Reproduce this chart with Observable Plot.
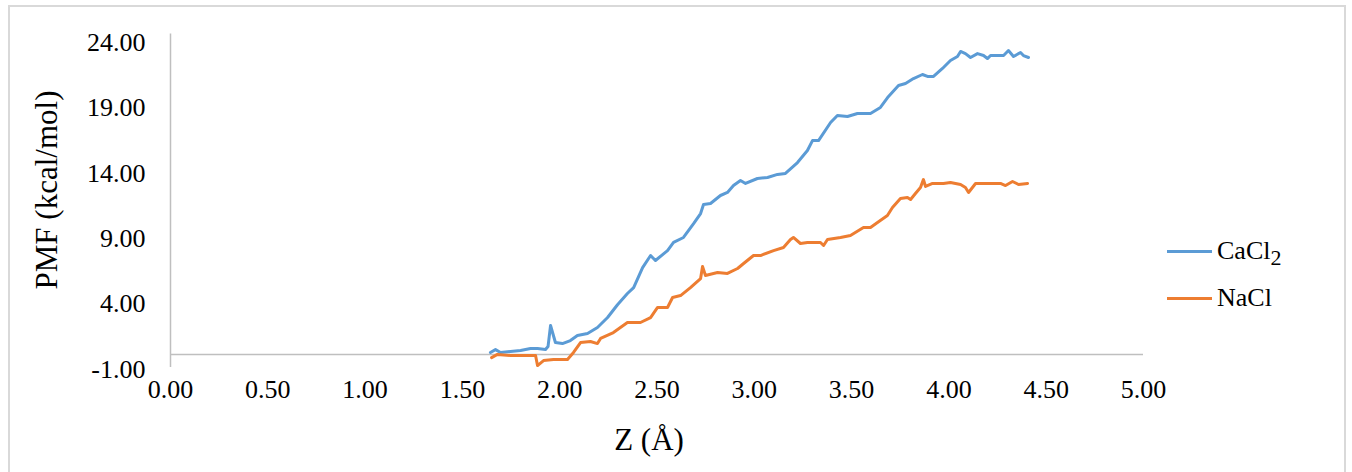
<!DOCTYPE html>
<html>
<head>
<meta charset="utf-8">
<script src="https://cdn.jsdelivr.net/npm/d3@7"></script>
<script src="https://cdn.jsdelivr.net/npm/@observablehq/plot@0.6"></script>
<style>
  html, body { margin: 0; padding: 0; background: #fff; overflow: hidden; }
  #wrap { position: relative; width: 1352px; height: 472px; font-family: "Liberation Serif", "Times New Roman", serif; color: #000; }
  #frame { position: absolute; left: 8px; top: 5px; width: 1338px; height: 490px; border: 2px solid #D9D9D9; box-sizing: border-box; }
  #chart { position: absolute; left: 0; top: 0; }
  .ytitle { position: absolute; left: 47px; top: 190px; transform: translate(-50%, -50%) rotate(-90deg); font-size: 31px; white-space: nowrap; }
  .xtitle { position: absolute; left: 649px; top: 440px; transform: translate(-50%, -50%); font-size: 31px; white-space: nowrap; }
  .legend { position: absolute; left: 1167px; font-size: 26px; display: flex; align-items: center; white-space: nowrap; }
  .legend .sw { width: 45px; height: 3px; margin-right: 5px; }
  .legend sub { font-size: 22px; vertical-align: -6px; line-height: 0; }
</style>
</head>
<body>
<div id="wrap">
  <div id="frame"></div>
  <div id="chart"></div>
  <div class="ytitle">PMF (kcal/mol)</div>
  <div class="xtitle">Z (Å)</div>
  <div class="legend" id="leg0" style="top:236px"></div>
  <div class="legend" id="leg1" style="top:283px"></div>
</div>
<script>
// ---- data ----
const seriesNames = ["CaCl2", "NaCl"];
const seriesColors = ["#5B9BD5", "#ED7D31"];

const zCaCl2 = [1.644, 1.670, 1.696, 1.747, 1.799, 1.850, 1.886, 1.927, 1.940, 1.953, 1.978, 2.014, 2.055, 2.091, 2.143, 2.194, 2.246, 2.297, 2.348, 2.380, 2.426, 2.467, 2.492, 2.554, 2.585, 2.636, 2.688, 2.724, 2.739, 2.775, 2.826, 2.862, 2.893, 2.929, 2.955, 3.016, 3.068, 3.119, 3.160, 3.222, 3.273, 3.299, 3.330, 3.392, 3.427, 3.479, 3.530, 3.597, 3.648, 3.685, 3.741, 3.777, 3.818, 3.864, 3.890, 3.921, 3.967, 4.008, 4.044, 4.060, 4.085, 4.111, 4.147, 4.178, 4.198, 4.214, 4.281, 4.306, 4.332, 4.368, 4.383, 4.409];
const pmfCaCl2 = [0.15, 0.37, 0.15, 0.22, 0.30, 0.45, 0.45, 0.37, 0.60, 2.21, 0.91, 0.83, 1.06, 1.44, 1.60, 2.06, 2.82, 3.80, 4.66, 5.11, 6.64, 7.56, 7.18, 7.94, 8.56, 8.94, 10.00, 10.77, 11.46, 11.54, 12.15, 12.38, 12.91, 13.30, 13.07, 13.45, 13.53, 13.76, 13.84, 14.67, 15.59, 16.35, 16.35, 17.73, 18.27, 18.19, 18.42, 18.42, 18.88, 19.64, 20.56, 20.71, 21.09, 21.40, 21.25, 21.25, 21.86, 22.47, 22.78, 23.16, 23.00, 22.70, 23.00, 22.85, 22.62, 22.85, 22.85, 23.23, 22.78, 23.08, 22.85, 22.70];

const zNaCl = [1.650, 1.680, 1.747, 1.876, 1.886, 1.917, 1.968, 2.020, 2.040, 2.071, 2.107, 2.158, 2.194, 2.210, 2.276, 2.348, 2.415, 2.467, 2.503, 2.554, 2.580, 2.621, 2.672, 2.724, 2.734, 2.749, 2.811, 2.862, 2.914, 2.945, 2.996, 3.032, 3.099, 3.150, 3.186, 3.201, 3.237, 3.273, 3.340, 3.356, 3.376, 3.443, 3.494, 3.561, 3.597, 3.633, 3.684, 3.710, 3.751, 3.787, 3.803, 3.828, 3.854, 3.869, 3.880, 3.916, 3.972, 4.008, 4.060, 4.085, 4.101, 4.137, 4.265, 4.291, 4.327, 4.358, 4.404];
const pmfNaCl = [-0.24, 0.00, -0.08, -0.08, -0.85, -0.47, -0.39, -0.39, -0.39, 0.15, 0.91, 0.99, 0.83, 1.22, 1.67, 2.44, 2.44, 2.82, 3.59, 3.59, 4.35, 4.50, 5.11, 5.80, 6.72, 6.03, 6.26, 6.19, 6.57, 6.95, 7.56, 7.56, 7.94, 8.17, 8.79, 8.94, 8.48, 8.56, 8.56, 8.33, 8.79, 8.94, 9.09, 9.70, 9.70, 10.08, 10.62, 11.23, 11.92, 12.00, 11.84, 12.30, 12.76, 13.37, 12.84, 13.07, 13.07, 13.14, 12.99, 12.76, 12.38, 13.07, 13.07, 12.91, 13.22, 12.99, 13.07];

const xTicks = [0, 0.5, 1, 1.5, 2, 2.5, 3, 3.5, 4, 4.5, 5];
const yTicks = [-1, 4, 9, 14, 19, 24];

// ---- table ----
const rows = [
  ...zCaCl2.map((z, i) => ({series: seriesNames[0], z, pmf: pmfCaCl2[i]})),
  ...zNaCl.map((z, i) => ({series: seriesNames[1], z, pmf: pmfNaCl[i]}))
];

const chart = Plot.plot({
  width: 1352,
  height: 472,
  marginLeft: 170,
  marginRight: 209,
  marginTop: 40,
  marginBottom: 105,
  style: {fontFamily: "'Liberation Serif', 'Times New Roman', serif", fontSize: "26px", color: "#000", background: "transparent"},
  x: {domain: [0, 5]},
  y: {domain: [-1, 24]},
  color: {domain: seriesNames, range: seriesColors},
  marks: [
    Plot.ruleY([0], {stroke: "#BFBFBF", strokeWidth: 1.5}),
    Plot.ruleX([0], {y1: -1, y2: 24.5, stroke: "#BFBFBF", strokeWidth: 1.5}),
    Plot.axisX({ticks: xTicks, tickFormat: d => d.toFixed(2), tickSize: 0, tickPadding: 12, label: null, fontSize: 26}),
    Plot.axisY({ticks: yTicks, tickFormat: d => d.toFixed(2), tickSize: 0, tickPadding: 25, label: null, fontSize: 26, dy: 2}),
    Plot.line(rows, {x: "z", y: "pmf", z: "series", stroke: "series", strokeWidth: 3, strokeLinejoin: "round", strokeLinecap: "round"})
  ]
});
document.getElementById("chart").appendChild(chart);

// ---- legend ----
const labels = [["CaCl", "2"], ["NaCl", ""]];
seriesNames.forEach((s, i) => {
  const el = document.getElementById("leg" + i);
  const sw = document.createElement("span");
  sw.className = "sw";
  sw.style.background = seriesColors[i];
  el.appendChild(sw);
  const t = document.createElement("span");
  t.textContent = labels[i][0];
  if (labels[i][1]) {
    const sub = document.createElement("sub");
    sub.textContent = labels[i][1];
    t.appendChild(sub);
  }
  el.appendChild(t);
});
</script>
</body>
</html>
